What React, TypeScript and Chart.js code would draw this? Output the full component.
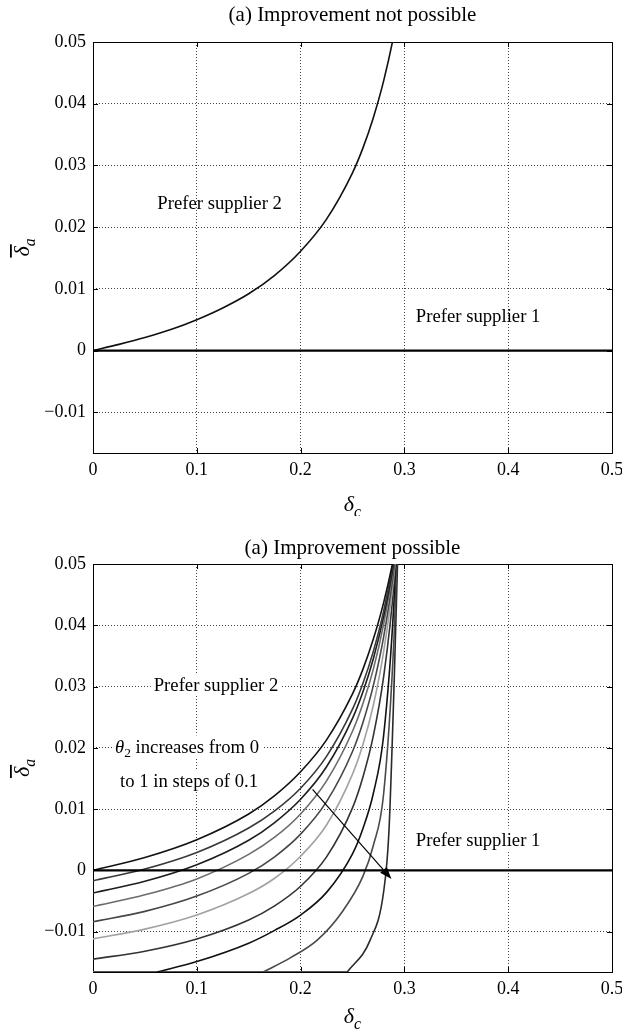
import React, { useEffect, useRef } from 'react';
import { Chart, registerables } from 'chart.js';

Chart.register(...registerables);

const FONT = '"Liberation Serif", "Times New Roman", Times, serif';
const TICK_SIZE = 18;
const NOTE_SIZE = 18.7;
const TITLE_SIZE = 21;
const LABEL_SIZE = 22;
const GRID_COLOR = '#444444';

// ---------- axes ----------
const xTickValues = [0, 0.1, 0.2, 0.3, 0.4, 0.5];
const xTickLabels = ['0', '0.1', '0.2', '0.3', '0.4', '0.5'];
const yTickValues = [-0.01, 0, 0.01, 0.02, 0.03, 0.04, 0.05];
const yTickLabels = ['\u22120.01', '0', '0.01', '0.02', '0.03', '0.04', '0.05'];
const xMin = 0;
const xMax = 0.5;
const yMin = -0.0166;
const yMax = 0.05;

// ---------- boundary line (delta_a = 0) ----------
const zeroLineX = [0, 0.5];
const zeroLineY = [0, 0];

// ---------- (a) improvement not possible ----------
const topDeltaC = [0, 0.025, 0.05, 0.075, 0.1, 0.125, 0.15, 0.175, 0.2, 0.225, 0.25, 0.26, 0.27, 0.28, 0.29, 0.3];
const topDeltaA = [0, 0.001, 0.0021, 0.0034, 0.005, 0.0069, 0.0092, 0.0122, 0.0161, 0.0213, 0.0288, 0.0328, 0.0377, 0.0437, 0.0513, 0.0612];

// ---------- (b) improvement possible: theta2 = 0, 0.1, ... ----------
const gridDeltaC = [0, 0.05, 0.1, 0.15, 0.175, 0.2, 0.225, 0.25, 0.26, 0.27, 0.28, 0.29, 0.3];
const theta00 = [0, 0.0021, 0.005, 0.0092, 0.0122, 0.0161, 0.0213, 0.0288, 0.0328, 0.0377, 0.0437, 0.0513, 0.0612];
const theta01 = [-0.0017, 0.0002, 0.0029, 0.0069, 0.0097, 0.0134, 0.0186, 0.0263, 0.0305, 0.0357, 0.0423, 0.051, 0.0628];
const theta02 = [-0.0037, -0.0018, 0.0009, 0.0049, 0.0078, 0.0116, 0.0169, 0.0248, 0.0291, 0.0345, 0.0414, 0.0505, 0.0631];
const theta03 = [-0.0059, -0.004, -0.0014, 0.0026, 0.0054, 0.0092, 0.0146, 0.0227, 0.0272, 0.0328, 0.0402, 0.05, 0.0639];
const theta04 = [-0.0084, -0.0067, -0.0042, -0.0005, 0.0022, 0.0059, 0.0112, 0.0194, 0.0241, 0.0301, 0.0381, 0.0493, 0.0661];
const theta05 = [-0.0112, -0.0096, -0.0073, -0.0038, -0.0013, 0.0023, 0.0074, 0.0157, 0.0205, 0.0269, 0.0357, 0.0484, 0.0687];
const theta06 = [-0.0145, -0.0132, -0.0112, -0.0081, -0.0058, -0.0026, 0.0022, 0.0102, 0.0152, 0.0219, 0.0316, 0.0469, 0.0744];
const theta07C = [0.0615, 0.1, 0.15, 0.175, 0.2, 0.225, 0.25, 0.26, 0.27, 0.28, 0.29, 0.3];
const theta07 = [-0.0166, -0.0149, -0.0119, -0.0098, -0.0073, -0.0036, 0.0027, 0.0068, 0.0125, 0.022, 0.044, 0.085];
const theta08C = [0.164, 0.19, 0.216, 0.24, 0.26, 0.27, 0.28, 0.29, 0.3];
const theta08 = [-0.0166, -0.0143, -0.0114, -0.0068, -0.001, 0.004, 0.0125, 0.038, 0.085];
const theta09C = [0.245, 0.267, 0.28, 0.285, 0.29, 0.3];
const theta09 = [-0.0166, -0.0114, -0.0035, 0.006, 0.03, 0.09];
// part of the lower curves that lies on the lower limit of the axis
const floorX = [0, 0.245];
const floorY = [-0.0166, -0.0166];

const curveColors = ['#111111', '#383838', '#1e1e1e', '#6c6c6c', '#474747', '#a2a2a2', '#333333', '#111111', '#4a4a4a', '#2a2a2a'];

// ---------- annotations ----------
const topTitle = '(a) Improvement not possible';
const bottomTitle = '(a) Improvement possible';

type Part = { t: string; it?: boolean; sub?: boolean };
type Note = { parts: Part[]; x: number; y: number; bg?: boolean };

const topNotes: Note[] = [
  { parts: [{ t: 'Prefer supplier 2' }], x: 0.122, y: 0.0239 },
  { parts: [{ t: 'Prefer supplier 1' }], x: 0.371, y: 0.0056 },
];
const bottomNotes: Note[] = [
  { parts: [{ t: 'Prefer supplier 2' }], x: 0.1185, y: 0.0303, bg: true },
  { parts: [{ t: '\u03b8', it: true }, { t: '2', sub: true }, { t: ' increases from 0' }], x: 0.0906, y: 0.0202, bg: true },
  { parts: [{ t: 'to 1 in steps of 0.1' }], x: 0.0925, y: 0.0146, bg: true },
  { parts: [{ t: 'Prefer supplier 1' }], x: 0.371, y: 0.005, bg: true },
];
const arrowFrom = [0.2115, 0.0132];
const arrowTo = [0.2875, -0.0014];

// ---------- helpers ----------
function fontFor(p: Part, size: number) {
  const s = p.sub ? size * 0.72 : size;
  return `${p.it ? 'italic ' : ''}${s}px ${FONT}`;
}
function measureRich(ctx: CanvasRenderingContext2D, parts: Part[], size: number) {
  let w = 0;
  for (const p of parts) {
    ctx.font = fontFor(p, size);
    w += ctx.measureText(p.t).width;
  }
  return w;
}
function drawRich(ctx: CanvasRenderingContext2D, parts: Part[], cx: number, cy: number, size: number, bg = false) {
  const w = measureRich(ctx, parts, size);
  let x = cx - w / 2;
  const base = cy + size * 0.33;
  if (bg) {
    ctx.fillStyle = '#ffffff';
    ctx.fillRect(x - 3, cy - size * 0.6, w + 6, size * 1.2);
  }
  ctx.fillStyle = '#000000';
  ctx.textAlign = 'left';
  ctx.textBaseline = 'alphabetic';
  for (const p of parts) {
    ctx.font = fontFor(p, size);
    ctx.fillText(p.t, x, p.sub ? base + size * 0.25 : base);
    x += ctx.measureText(p.t).width;
  }
}

function pts(xs: number[], ys: number[]) {
  return xs.map((x, i) => ({ x, y: ys[i] }));
}

function lineDataset(xs: number[], ys: number[], color: string, width: number) {
  return {
    data: pts(xs, ys),
    borderColor: color,
    backgroundColor: color,
    borderWidth: width,
    pointRadius: 0,
    fill: false,
    cubicInterpolationMode: 'monotone' as const,
  };
}

type Spec = {
  title: string;
  titleY: number;
  xLabelY: number;
  notes: Note[];
  arrow?: { from: number[]; to: number[] };
};

function makeOverlay(spec: Spec) {
  return {
    id: 'overlay',
    beforeDatasetsDraw(chart: any) {
      const ctx: CanvasRenderingContext2D = chart.ctx;
      const { left, right, top, bottom } = chart.chartArea;
      const xs = chart.scales.x;
      const ys = chart.scales.y;
      ctx.save();
      for (const n of spec.notes) {
        drawRich(ctx, n.parts, xs.getPixelForValue(n.x), ys.getPixelForValue(n.y), NOTE_SIZE, !!n.bg);
      }
      ctx.strokeStyle = '#000000';
      ctx.lineWidth = 1;
      ctx.setLineDash([]);
      ctx.strokeRect(Math.round(left) + 0.5, Math.round(top) + 0.5, Math.round(right - left), Math.round(bottom - top));
      ctx.beginPath();
      for (const v of xTickValues) {
        const px = Math.round(xs.getPixelForValue(v)) + 0.5;
        ctx.moveTo(px, bottom);
        ctx.lineTo(px, bottom - 5);
        ctx.moveTo(px, top);
        ctx.lineTo(px, top + 5);
      }
      for (const v of yTickValues) {
        const py = Math.round(ys.getPixelForValue(v)) + 0.5;
        ctx.moveTo(left, py);
        ctx.lineTo(left + 5, py);
        ctx.moveTo(right, py);
        ctx.lineTo(right - 5, py);
      }
      ctx.stroke();
      ctx.restore();
    },
    afterDatasetsDraw(chart: any) {
      const ctx: CanvasRenderingContext2D = chart.ctx;
      const { left, right, top, bottom } = chart.chartArea;
      const xs = chart.scales.x;
      const ys = chart.scales.y;
      ctx.save();
      const cx = (left + right) / 2;
      drawRich(ctx, [{ t: spec.title }], cx, spec.titleY, TITLE_SIZE);
      drawRich(ctx, [{ t: '\u03b4', it: true }, { t: 'c', it: true, sub: true }], cx, spec.xLabelY, LABEL_SIZE);
      ctx.save();
      ctx.translate(22, (top + bottom) / 2);
      ctx.rotate(-Math.PI / 2);
      const parts: Part[] = [{ t: '\u03b4', it: true }, { t: 'a', it: true, sub: true }];
      const w = measureRich(ctx, parts, LABEL_SIZE);
      drawRich(ctx, parts, 0, 0, LABEL_SIZE);
      ctx.font = fontFor(parts[0], LABEL_SIZE);
      const dw = ctx.measureText('\u03b4').width;
      ctx.fillStyle = '#000000';
      ctx.fillRect(-w / 2 - 1, -12, dw + 3, 1.8);
      ctx.restore();
      if (spec.arrow) {
        const x1 = xs.getPixelForValue(spec.arrow.from[0]);
        const y1 = ys.getPixelForValue(spec.arrow.from[1]);
        const x2 = xs.getPixelForValue(spec.arrow.to[0]);
        const y2 = ys.getPixelForValue(spec.arrow.to[1]);
        const ang = Math.atan2(y2 - y1, x2 - x1);
        const hl = 12;
        const hw = 4.5;
        const bx = x2 - hl * Math.cos(ang);
        const by = y2 - hl * Math.sin(ang);
        ctx.strokeStyle = '#000000';
        ctx.lineWidth = 1.2;
        ctx.beginPath();
        ctx.moveTo(x1, y1);
        ctx.lineTo(bx, by);
        ctx.stroke();
        ctx.fillStyle = '#000000';
        ctx.beginPath();
        ctx.moveTo(x2, y2);
        ctx.lineTo(bx + hw * Math.sin(ang), by - hw * Math.cos(ang));
        ctx.lineTo(bx - hw * Math.sin(ang), by + hw * Math.cos(ang));
        ctx.closePath();
        ctx.fill();
      }
      ctx.restore();
    },
  };
}

function makeConfig(datasets: any[], spec: Spec, padTop: number, xAxisHeight: number): any {
  return {
    type: 'line',
    data: { datasets },
    plugins: [makeOverlay(spec)],
    options: {
      animation: false,
      responsive: false,
      devicePixelRatio: 1,
      events: [],
      layout: { padding: { top: padTop, right: 10, left: 0, bottom: 0 } },
      plugins: {
        legend: { display: false },
        tooltip: { enabled: false },
        title: { display: false },
      },
      elements: { point: { radius: 0 } },
      scales: {
        x: {
          type: 'linear',
          min: xMin,
          max: xMax,
          afterBuildTicks: (s: any) => {
            s.ticks = xTickValues.map((v) => ({ value: v }));
          },
          ticks: {
            callback: (_v: any, i: number) => xTickLabels[i],
            font: { family: FONT, size: TICK_SIZE },
            color: '#000000',
            padding: 6,
            autoSkip: false,
            maxRotation: 0,
          },
          grid: { color: GRID_COLOR, lineWidth: 1, drawTicks: false },
          border: { display: false, dash: [1, 2] },
          afterFit: (s: any) => {
            s.height = xAxisHeight;
            s.paddingLeft = 0;
            s.paddingRight = 0;
          },
        },
        y: {
          type: 'linear',
          min: yMin,
          max: yMax,
          afterBuildTicks: (s: any) => {
            s.ticks = yTickValues.map((v) => ({ value: v }));
          },
          ticks: {
            callback: (_v: any, i: number) => yTickLabels[i],
            font: { family: FONT, size: TICK_SIZE },
            color: '#000000',
            padding: 7,
            autoSkip: false,
          },
          grid: { color: GRID_COLOR, lineWidth: 1, drawTicks: false },
          border: { display: false, dash: [1, 2] },
          afterFit: (s: any) => {
            s.width = 93;
            s.paddingTop = 0;
            s.paddingBottom = 0;
          },
        },
      },
    },
  };
}

export default function App() {
  const topRef = useRef<HTMLCanvasElement>(null);
  const botRef = useRef<HTMLCanvasElement>(null);

  useEffect(() => {
    const topDatasets = [
      lineDataset(zeroLineX, zeroLineY, '#000000', 2.2),
      lineDataset(topDeltaC, topDeltaA, '#111111', 1.6),
    ];
    const bottomCurves = [
      [gridDeltaC, theta00],
      [gridDeltaC, theta01],
      [gridDeltaC, theta02],
      [gridDeltaC, theta03],
      [gridDeltaC, theta04],
      [gridDeltaC, theta05],
      [gridDeltaC, theta06],
      [theta07C, theta07],
      [theta08C, theta08],
      [theta09C, theta09],
    ];
    const bottomDatasets = [
      lineDataset(zeroLineX, zeroLineY, '#000000', 2.2),
      ...bottomCurves.map(([xs, ys], i) => lineDataset(xs, ys, curveColors[i], 1.6)),
      lineDataset(floorX, floorY, '#555555', 1.8),
    ];
    const c1 = new Chart(
      topRef.current as HTMLCanvasElement,
      makeConfig(topDatasets, { title: topTitle, titleY: 14, xLabelY: 504, notes: topNotes }, 42, 63)
    );
    const c2 = new Chart(
      botRef.current as HTMLCanvasElement,
      makeConfig(
        bottomDatasets,
        { title: bottomTitle, titleY: 31, xLabelY: 500, notes: bottomNotes, arrow: { from: arrowFrom, to: arrowTo } },
        48,
        60
      )
    );
    return () => {
      c1.destroy();
      c2.destroy();
    };
  }, []);

  return (
    <div style={{ position: 'absolute', left: 0, top: 0, width: 622, height: 1032, background: '#ffffff' }}>
      <canvas ref={topRef} width={622} height={516} style={{ display: 'block', width: 622, height: 516 }} />
      <canvas ref={botRef} width={622} height={516} style={{ display: 'block', width: 622, height: 516 }} />
    </div>
  );
}
